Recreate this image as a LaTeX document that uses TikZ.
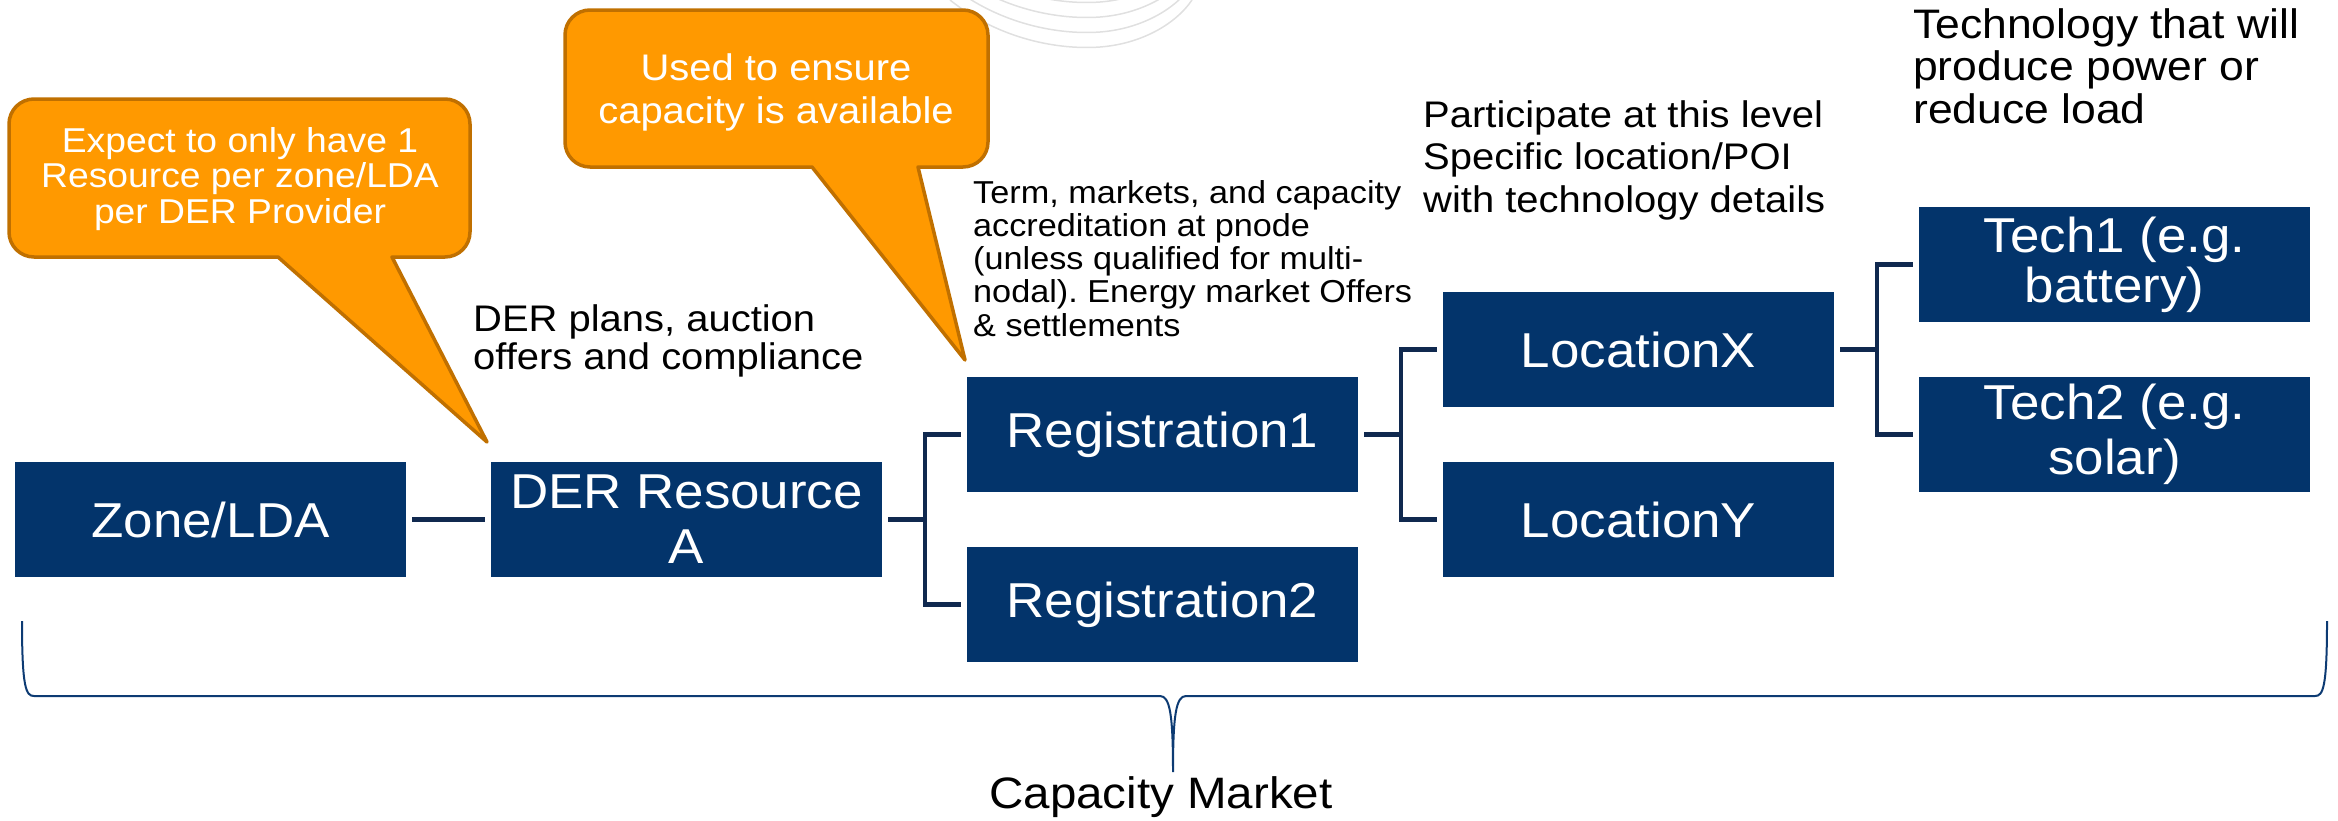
\documentclass[tikz,border=0pt]{standalone}
\usepackage{fontspec}
\setmainfont{Liberation Sans}[FakeStretch=1.08]
\usepackage{tikz}
\definecolor{BoxBlue}{HTML}{03346B}
\definecolor{LineNavy}{HTML}{10294F}
\definecolor{BraceNavy}{HTML}{0D3B73}
\definecolor{CalloutFill}{HTML}{FF9900}
\definecolor{CalloutEdge}{HTML}{C07000}
\frenchspacing

\begin{document}
\begin{tikzpicture}[x=1pt, y=1pt, grow'=right, level distance=476pt, sibling distance=170pt,
      box/.style={fill=BoxBlue, text=white, minimum width=391pt, minimum height=115pt,
        inner sep=0pt, align=center, font=\fontsize{49}{55}\selectfont},
      note/.style={anchor=west, align=left, inner sep=0pt},
      bubble/.style={fill=CalloutFill, draw=CalloutEdge, line width=3.5pt, line join=round},
      edge from parent/.style={draw=LineNavy, line width=4.5pt},
      edge from parent path={([xshift=6pt]\tikzparentnode.east) -- ++(37pt,0)
        |- ([xshift=-6pt]\tikzchildnode.west)}]
    \useasboundingbox (0,0) rectangle (2338,-820);
    % faint arcs at the top edge
    \begin{scope}
      \clip (0,0) rectangle (2338,-820);
      \foreach \k in {0,1,2,3}
        \draw[black!12, line width=1.5pt, shift={(0,15*\k)}] (950,0) .. controls (1000,-40) and (1060,-50) .. (1100,-47)
          .. controls (1140,-44) and (1175,-25) .. (1192,0);
    \end{scope}
    % the hierarchy
    \node (zone) [box] at (210.5,-519.5) {Zone/LDA}
      child {node (der) [box] {DER Resource\\A}
        child {node (reg1) [box] {Registration1}
          child {node (locx) [box] {LocationX}
            child {node (tech1) [box, font=\fontsize{49}{50}\selectfont] {Tech1 (e.g.\\battery)}}
            child {node (tech2) [box] {Tech2 (e.g.\\solar)}}}
          child {node (locy) [box] {LocationY}}}
        child {node (reg2) [box] {Registration2}}};
    % callouts
    \draw[bubble] (278,-257) -- (487,-442) -- (392,-257) -- (445,-257)
      arc[start angle=-90, end angle=0, radius=25pt] -- (470,-124)
      arc[start angle=0, end angle=90, radius=25pt] -- (34,-99)
      arc[start angle=90, end angle=180, radius=25pt] -- (9,-232)
      arc[start angle=180, end angle=270, radius=25pt] -- cycle;
    \draw[bubble] (812,-167) -- (965,-360) -- (918,-167) -- (963,-167)
      arc[start angle=-90, end angle=0, radius=25pt] -- (988,-35)
      arc[start angle=0, end angle=90, radius=25pt] -- (590,-10)
      arc[start angle=90, end angle=180, radius=25pt] -- (565,-142)
      arc[start angle=180, end angle=270, radius=25pt] -- cycle;
    \node (one) [text=white, align=center, font=\fontsize{34.5}{35.5}\selectfont] at (240,-179)
      {Expect to only have 1\\Resource per zone/LDA\\per DER Provider};
    \node (ensure) [text=white, align=center, font=\fontsize{37}{43}\selectfont] at (776,-92)
      {Used to ensure\\capacity is available};
    % level notes
    \node (plans) [note, font=\fontsize{37}{38}\selectfont] at (473,-341.4)
      {DER plans, auction\\offers and compliance};
    \node (terms) [note, font=\fontsize{31.7}{33.25}\selectfont] at (973,-258.2)
      {Term, markets, and capacity\\accreditation at pnode\\(unless qualified for multi-\\nodal). Energy market Offers\\\& settlements};
    \node (level) [note, font=\fontsize{37}{42.5}\selectfont] at (1423,-160)
      {Participate at this level\\Specific location/POI\\with technology details};
    \node (techs) [note, font=\fontsize{41.2}{42.5}\selectfont] at (1913,-65.8)
      {Technology that will\\produce power or\\reduce load};
    % brace over the whole market
    \draw[BraceNavy, line width=2pt] (22,-621) .. controls (22,-688) and (26,-696) .. (34,-696) -- (1160,-696)
      .. controls (1170,-696) and (1173,-715) .. (1173,-772)
      .. controls (1173,-715) and (1176,-696) .. (1186,-696) -- (2315,-696)
      .. controls (2323,-696) and (2327,-688) .. (2327,-621);
    \node (market) [anchor=base, font=\fontsize{44}{50}\selectfont] at (1161,-808) {Capacity Market};
  \end{tikzpicture}
\end{document}
